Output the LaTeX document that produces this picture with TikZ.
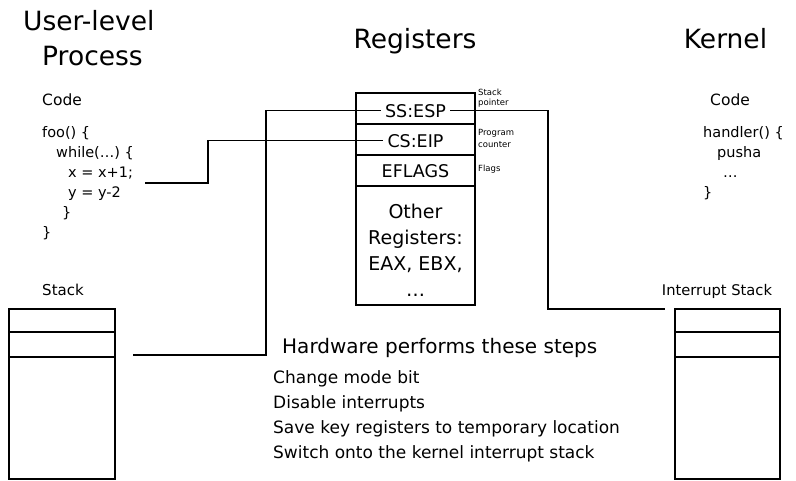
\documentclass[tikz,border=0pt]{standalone}
\usepackage{fontspec}
\setmainfont{DejaVu Sans}
\usetikzlibrary{positioning}
\definecolor{inkblack}{RGB}{0,0,0}

\tikzset{
  title/.style={font=\fontsize{26.5}{30}\selectfont, inner sep=0pt},
  codetext/.style={font=\fontsize{14.5}{17}\selectfont, anchor=base west, inner sep=0pt},
  codehead/.style={font=\fontsize{15.5}{18}\selectfont, anchor=base west, inner sep=0pt},
  reglabel/.style={font=\fontsize{17.5}{20}\selectfont, anchor=base, inner sep=4pt},
  othertext/.style={font=\fontsize{19}{22}\selectfont, anchor=base, inner sep=0pt},
  tinylabel/.style={font=\fontsize{8.5}{10}\selectfont, anchor=base west, inner sep=0pt},
  steptext/.style={font=\fontsize{17}{20}\selectfont, anchor=base west, inner sep=0pt},
  regbox/.style={draw=inkblack, line width=2.4pt},
  stackbox/.style={draw=inkblack, line width=1.8pt},
  wire/.style={draw=inkblack, line width=1.7pt}
}

\begin{document}
\begin{tikzpicture}[x=1pt, y=-1pt]
  \useasboundingbox (0,0) rectangle (796,480);

  % user side
  \begin{scope}
    \node[title, anchor=base west] (utitle) at (23,30) {User-level};
    \node[title, anchor=base west] (uproc) at (42,65) {Process};
    \node[codehead] (ucode) at (42,105) {Code};
    \foreach \x/\y/\txt [count=\i] in {42/137/foo() \{, 56/157/while(\dots) \{, 68/177/x = x+1;, 68/197/y = y-2, 62/217/\}, 42/237/\}}
      \node[codetext] (uline\i) at (\x,\y) {\txt};
    \node[codehead, font=\fontsize{15}{18}\selectfont, anchor=base] (ustack) at (63,295) {Stack};
    \draw[stackbox] (9,309) rectangle (115,479);
    \draw[stackbox] (9,332) -- (115,332) (9,357) -- (115,357);
    \coordinate (pcstart) at (145,183);
    \coordinate (ustk) at (133,355);
  \end{scope}

  % registers
  \begin{scope}
    \node[title, anchor=base] (rtitle) at (415,48) {Registers};
    \draw[regbox] (356,93) rectangle (475,124);
    \draw[regbox] (356,124) rectangle (475,155);
    \draw[regbox] (356,155) rectangle (475,186);
    \draw[regbox] (356,186) rectangle (475,305);
    \node[reglabel] (ssesp) at (415.5,117) {SS:ESP};
    \node[reglabel] (cseip) at (415.5,147) {CS:EIP};
    \node[reglabel] (eflags) at (415.5,177) {EFLAGS};
    \foreach \txt [count=\i] in {Other, Registers:, {EAX, EBX,}, \dots}
      \node[othertext] (oreg\i) at (415.5,{192+26*\i}) {\txt};
    \node[tinylabel] (spnote) at (478,95) {Stack};
    \node[tinylabel] (spnote2) at (478,105) {pointer};
    \node[tinylabel] (pcnote) at (478,135) {Program};
    \node[tinylabel] (pcnote2) at (478,147) {counter};
    \node[tinylabel] (flnote) at (478,171) {Flags};
  \end{scope}

  % kernel side
  \begin{scope}
    \node[title, anchor=base] (ktitle) at (725.5,48) {Kernel};
    \node[codehead] (kcode) at (710,105) {Code};
    \foreach \x/\y/\txt [count=\i] in {703/137/handler() \{, 717/157/pusha, 723/177/\dots, 703/197/\}}
      \node[codetext] (kline\i) at (\x,\y) {\txt};
    \node[codehead, font=\fontsize{14.7}{18}\selectfont, anchor=base] (istack) at (717,295) {Interrupt Stack};
    \draw[stackbox] (675,309) rectangle (780,479);
    \draw[stackbox] (675,332) -- (780,332) (675,357) -- (780,357);
    \coordinate (istk) at (665,309);
  \end{scope}

  % hardware steps
  \node[steptext, font=\fontsize{20}{24}\selectfont] (hw) at (282,353) {Hardware performs these steps};
  \foreach \txt [count=\i] in {Change mode bit, Disable interrupts, Save key registers to temporary location, Switch onto the kernel interrupt stack}
    \node[steptext] (step\i) at (273,{358+25*\i}) {\txt};

  % connectors
  \draw[wire] (pcstart) -- (208,183) |- (cseip.west);
  \draw[wire] (ustk) -- (266,355) |- (ssesp.west);
  \draw[wire] (ssesp.east) -| (548,309) -- (istk);
\end{tikzpicture}
\end{document}
